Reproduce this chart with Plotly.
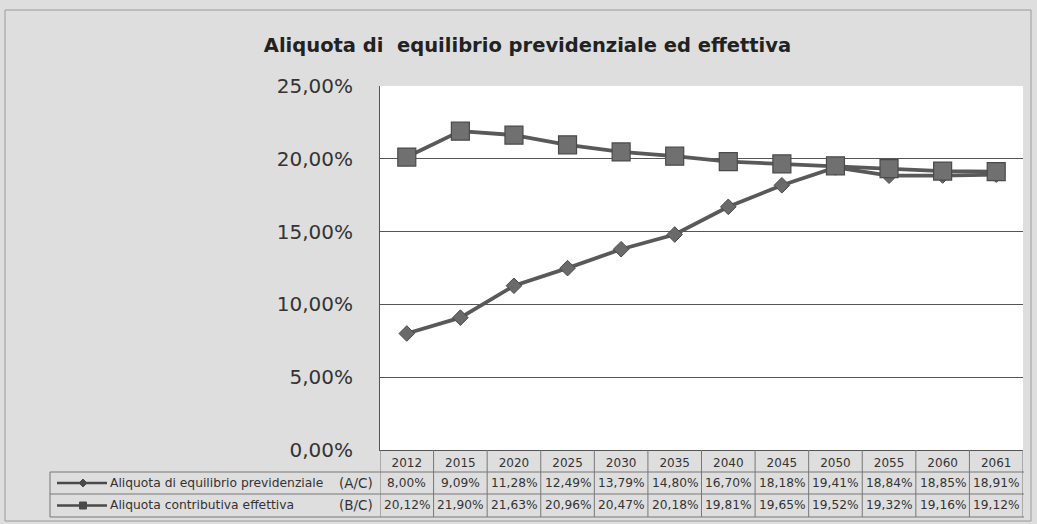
import plotly.graph_objects as go

# ---- data ----
years = ["2012", "2015", "2020", "2025", "2030", "2035", "2040", "2045", "2050", "2055", "2060", "2061"]
equilibrio = [8.00, 9.09, 11.28, 12.49, 13.79, 14.80, 16.70, 18.18, 19.41, 18.84, 18.85, 18.91]
contributiva = [20.12, 21.90, 21.63, 20.96, 20.47, 20.18, 19.81, 19.65, 19.52, 19.32, 19.16, 19.12]
label_a = "Aliquota di equilibrio previdenziale"
label_b = "Aliquota contributiva effettiva"
code_a = "(A/C)"
code_b = "(B/C)"
title = "Aliquota di&nbsp; equilibrio previdenziale ed effettiva"

W, H = 1037, 524
L, R, T, B = 380, 1023, 86, 450  # plot area in pixels

def px(xp):
    return (xp - L) / (R - L)

def py(yp):
    return (B - yp) / (B - T)

LINE = "#555555"
TXT = "#333333"
BG = "#dedede"

fig = go.Figure()
fig.add_trace(go.Scatter(
    x=years, y=[v / 100 for v in equilibrio], mode="lines+markers",
    name=label_a, line=dict(color="#595959", width=3.8),
    marker=dict(symbol="diamond", size=12, color="#6a6a6a", line=dict(color="#4a4a4a", width=1)),
))
fig.add_trace(go.Scatter(
    x=years, y=[v / 100 for v in contributiva], mode="lines+markers",
    name=label_b, line=dict(color="#595959", width=3.8),
    marker=dict(symbol="square", size=18, color="#707070", line=dict(color="#4a4a4a", width=1.2)),
))

def fmt(v):
    return f"{v:.2f}".replace(".", ",") + "%"

ann = []
shapes = []
rowA, rowB = py(483), py(505.5)
for i, (a, b) in enumerate(zip(equilibrio, contributiva)):
    ann.append(dict(x=i, xref="x", y=rowA, yref="paper", text=fmt(a), showarrow=False,
                    font=dict(family="DejaVu Sans", size=12.2, color=TXT), xanchor="center", yanchor="middle"))
    ann.append(dict(x=i, xref="x", y=rowB, yref="paper", text=fmt(b), showarrow=False,
                    font=dict(family="DejaVu Sans", size=12.2, color=TXT), xanchor="center", yanchor="middle"))

# row labels
for lab, code, yc in [(label_a, code_a, rowA), (label_b, code_b, rowB)]:
    ann.append(dict(x=px(108), xref="paper", y=yc, yref="paper", text=lab, showarrow=False,
                    font=dict(family="DejaVu Sans", size=12.3, color=TXT), xanchor="left", yanchor="middle"))
    ann.append(dict(x=px(375), xref="paper", y=yc, yref="paper", text=code, showarrow=False,
                    font=dict(family="DejaVu Sans", size=13.5, color=TXT), xanchor="right", yanchor="middle"))

# table grid
n = len(years)
for i in range(n + 1):
    shapes.append(dict(type="line", xref="x", yref="paper", x0=i - 0.5, x1=i - 0.5,
                       y0=py(450), y1=py(517), line=dict(color="#777777", width=1)))
for yy in [472, 494, 517]:
    shapes.append(dict(type="line", xref="paper", yref="paper", x0=px(50), x1=px(R + 1),
                       y0=py(yy), y1=py(yy), line=dict(color="#777777", width=1)))
shapes.append(dict(type="line", xref="paper", yref="paper", x0=px(50), x1=px(50),
                   y0=py(472), y1=py(517), line=dict(color="#777777", width=1)))

# legend keys in table
for yc in [483, 505.5]:
    shapes.append(dict(type="line", xref="paper", yref="paper", x0=px(57), x1=px(107),
                       y0=py(yc), y1=py(yc), line=dict(color="#4a4a4a", width=2.5)))
cx, cy = 83, 483
d = 4
shapes.append(dict(type="path", xref="paper", yref="paper",
                   path=f"M {px(cx-d)} {py(cy)} L {px(cx)} {py(cy-d)} L {px(cx+d)} {py(cy)} L {px(cx)} {py(cy+d)} Z",
                   fillcolor="#4a4a4a", line=dict(color="#4a4a4a", width=1)))
cx, cy = 83, 505.5
s = 3.5
shapes.append(dict(type="rect", xref="paper", yref="paper", x0=px(cx - s), x1=px(cx + s),
                   y0=py(cy + s), y1=py(cy - s), fillcolor="#4a4a4a", line=dict(color="#4a4a4a", width=1)))

# outer frame
shapes.append(dict(type="rect", xref="paper", yref="paper", x0=px(5), x1=px(1031),
                   y0=py(521), y1=py(10), line=dict(color="#9a9a9a", width=1), layer="below"))

fig.update_layout(
    width=W, height=H,
    margin=dict(l=L, r=W - R, t=T, b=H - B, autoexpand=False),
    paper_bgcolor=BG, plot_bgcolor="#ffffff",
    separators=",.",
    showlegend=False,
    title=dict(text=f"<b>{title}</b>", x=527.5 / W, xref="container", xanchor="center",
               y=1 - 45 / H, yref="container", yanchor="middle",
               font=dict(family="DejaVu Sans", size=19.5, color="#222222")),
    annotations=ann, shapes=shapes,
)
fig.update_yaxes(range=[0, 0.25], dtick=0.05, tickformat=".2%",
                 showgrid=True, gridcolor=LINE, gridwidth=1,
                 showline=True, linecolor=LINE, linewidth=1, zeroline=False,
                 ticks="", ticklabelstandoff=22,
                 tickfont=dict(family="DejaVu Sans", size=20, color=TXT))
fig.update_xaxes(type="category", range=[-0.5, n - 0.5], showgrid=False,
                 showline=True, linecolor=LINE, linewidth=1, mirror=False,
                 ticks="", tickfont=dict(family="DejaVu Sans", size=12, color=TXT),
                 ticklabelstandoff=2)

fig.write_html("out.html", config={"displayModeBar": False},
               post_script="document.body.style.margin='0';")
